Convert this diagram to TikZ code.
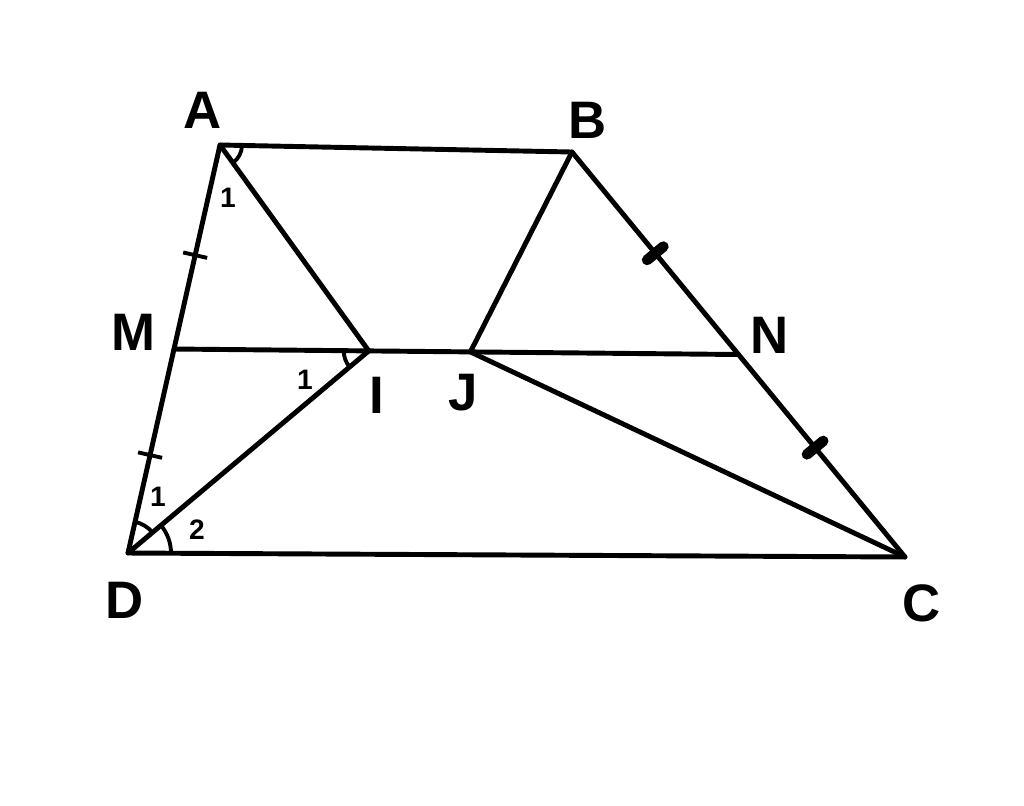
\documentclass[tikz,border=0pt]{standalone}
\usepackage{fontspec}
\setmainfont{Liberation Sans}
\usetikzlibrary{calc}
\begin{document}
\begin{tikzpicture}[x=0.01cm,y=-0.01cm,
  seg/.style={line width=1.4pt,line cap=round,line join=round},
  lbl/.style={font=\fontsize{15}{15}\selectfont\bfseries},
  small/.style={font=\fontsize{8}{8}\selectfont\bfseries},
  thin tick/.style={line width=1.1pt},
  thick tick/.style={line width=3pt,line cap=round},
  anglearc/.style={line width=1.1pt}]
\useasboundingbox (0,0) rectangle (1024,805);
\coordinate (A) at (220,145);
\coordinate (B) at (572,152);
\coordinate (C) at (905,557);
\coordinate (D) at (128,553);
\coordinate (M) at ($(A)!0.5!(D)$);
\coordinate (N) at ($(B)!0.5!(C)$);
\coordinate (I) at ($(M)!0.345!(N)$);
\coordinate (J) at ($(M)!0.525!(N)$);
\draw[seg] (A) -- (B) -- (C) -- (D) -- cycle;
\draw[seg] (M) -- (N);
\draw[seg] (A) -- (I) -- (D);
\draw[seg] (B) -- (J) -- (C);
% ticks
\foreach \t in {0.27,0.76}{
  \draw[thin tick] ($(A)!\t!(D)!3.5pt!90:(D)$) -- ($(A)!\t!(D)!-3.5pt!90:(D)$);
}
\foreach \t in {0.25,0.73}{
  \draw[thick tick] ($(B)!\t!(C)!3pt!90:(C)$) -- ($(B)!\t!(C)!-3pt!90:(C)$);
}
% angle arcs (angles negated because y axis points down)
\draw[anglearc] ($(A)+(1:22)$) arc[start angle=1,end angle=54,radius=22];
\draw[anglearc] ($(I)+(180:25)$) arc[start angle=180,end angle=140.3,radius=25];
\draw[anglearc] ($(D)+(-77.3:32)$) arc[start angle=-77.3,end angle=-39.7,radius=32];
\draw[anglearc] ($(D)+(-39.7:43)$) arc[start angle=-39.7,end angle=0.3,radius=43];
% labels
\node[lbl] (lA) at (203,110) {A};
\node[lbl] (lB) at (588,120) {B};
\node[lbl] (lM) at (133,332) {M};
\node[lbl] (lN) at (770,335) {N};
\node[lbl] (lI) at (377,395) {I};
\node[lbl] (lJ) at (463,393) {J};
\node[lbl] (lD) at (125,600) {D};
\node[lbl] (lC) at (922,603) {C};
\node[small] (a1) at (228,198) {1};
\node[small] (i1) at (305,380) {1};
\node[small] (d1) at (158,497) {1};
\node[small] (d2) at (197,530) {2};
\end{tikzpicture}
\end{document}
